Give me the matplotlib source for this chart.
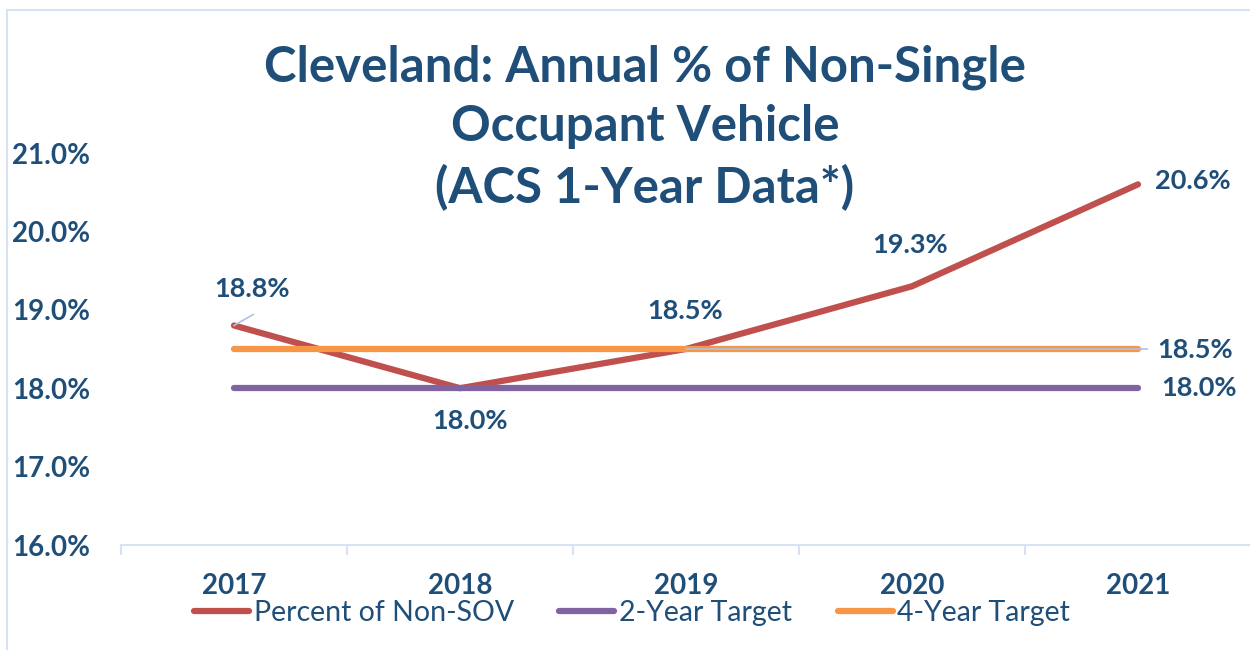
import matplotlib.pyplot as plt
from matplotlib.patches import Rectangle

years = ['2017', '2018', '2019', '2020', '2021']
non_sov = [18.8, 18.0, 18.5, 19.3, 20.6]
target_2yr = [18.0, 18.0, 18.0, 18.0, 18.0]
target_4yr = [18.5, 18.5, 18.5, 18.5, 18.5]

navy = '#1F4E79'
red = '#C0504D'
purple = '#8064A2'
orange = '#F79646'
pale = '#D5E3F3'

plt.rcParams['font.family'] = ['Lato', 'DejaVu Sans']

fig = plt.figure(figsize=(12.5, 6.5), dpi=100)
ax = fig.add_axes([121 / 1250, 1 - 545 / 650, 1130 / 1250, 392 / 650])
x = list(range(len(years)))

ax.plot(x, non_sov, color=red, lw=4.5, solid_capstyle='round', label='Percent of Non-SOV', zorder=3)
ax.plot(x, target_2yr, color=purple, lw=4.5, solid_capstyle='round', label='2-Year Target', zorder=4)
ax.plot(x, target_4yr, color=orange, lw=4.5, solid_capstyle='round', label='4-Year Target', zorder=5)
# thin leader lines (label connectors)
ax.plot([x[2], x[4] + 0.04], [target_4yr[2], target_4yr[4]], color='#A9C4E6', lw=1.2, zorder=6)
ax.plot([x[0], x[0] + 0.085], [non_sov[0], non_sov[0] + 0.14], color='#A9C4E6', lw=1.2, zorder=6)

ax.set_xlim(-0.5, 4.5)
ax.set_ylim(16, 21)
ax.set_yticks([16, 17, 18, 19, 20, 21])
ax.set_yticklabels([f'{v:.1f}%' for v in [16, 17, 18, 19, 20, 21]])
ax.set_xticks(x)
ax.set_xticklabels(years)
ax.set_xticks([i - 0.5 for i in range(6)], minor=True)
ax.tick_params(axis='x', which='major', length=0, pad=20)
ax.tick_params(axis='x', which='minor', length=7, width=1.5, color=pale)
ax.tick_params(axis='y', length=0, pad=22)
for lab in ax.get_xticklabels() + ax.get_yticklabels():
    lab.set_fontsize(20)
    lab.set_fontweight('bold')
    lab.set_color(navy)
for s in ['top', 'right', 'left']:
    ax.spines[s].set_visible(False)
ax.spines['bottom'].set_color(pale)
ax.spines['bottom'].set_linewidth(1.5)

lab_kw = dict(fontsize=19.5, fontweight='bold', color=navy, ha='center', va='center',
              textcoords='offset pixels')
ax.annotate(f'{non_sov[0]:.1f}%', (x[0], non_sov[0]), xytext=(18, 36), **lab_kw)
ax.annotate(f'{non_sov[1]:.1f}%', (x[1], non_sov[1]), xytext=(10, -33), **lab_kw)
ax.annotate(f'{non_sov[2]:.1f}%', (x[2], non_sov[2]), xytext=(-1, 38), **lab_kw)
ax.annotate(f'{non_sov[3]:.1f}%', (x[3], non_sov[3]), xytext=(-2, 41), **lab_kw)
ax.annotate(f'{non_sov[4]:.1f}%', (x[4], non_sov[4]), xytext=(55, 3), **lab_kw)
ax.annotate(f'{target_4yr[4]:.1f}%', (x[4], target_4yr[4]), xytext=(57, -1), **lab_kw)
ax.annotate(f'{target_2yr[4]:.1f}%', (x[4], target_2yr[4]), xytext=(61, 0), **lab_kw)

fig.text(645 / 1250, 1 - 128 / 650, 'Cleveland: Annual % of Non-Single\nOccupant Vehicle\n(ACS 1-Year Data*)',
         ha='center', va='center', fontsize=35.4, fontweight='bold', color=navy, linespacing=1.38)

fig.legend(loc='center', bbox_to_anchor=(632 / 1250, 1 - 613 / 650), ncol=3, frameon=False,
           fontsize=20.5, labelcolor=navy, handlelength=1.93, handletextpad=0.17, columnspacing=1.6)

fig.patches.append(Rectangle((7 / 1250, -0.1), 1.2, 1 - 10 / 650 + 0.1, transform=fig.transFigure,
                             fill=False, edgecolor=pale, lw=1.5))

fig.savefig('out.png', dpi=100)
